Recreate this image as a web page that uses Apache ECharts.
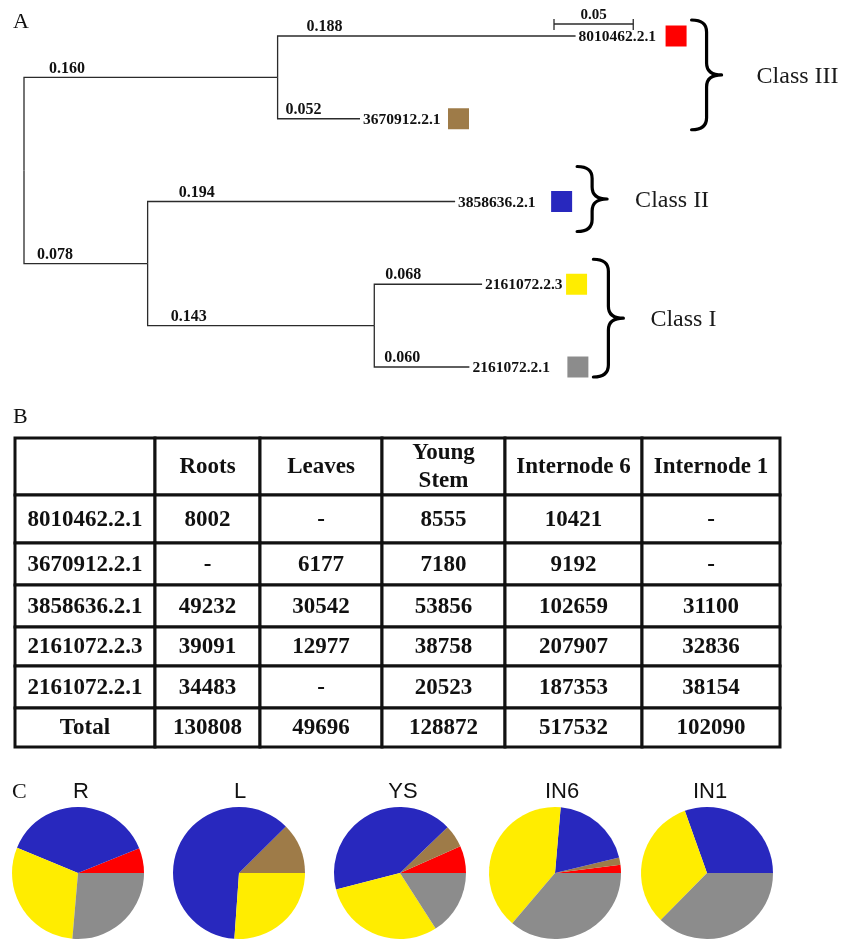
<!DOCTYPE html>
<html>
<head>
<meta charset="utf-8">
<script src="https://cdn.jsdelivr.net/npm/echarts@6/dist/echarts.min.js"></script>
<style>
  html, body { margin: 0; padding: 0; background: #ffffff; }
  #main { width: 851px; height: 941px; }
</style>
</head>
<body>
<div id="main"></div>
<script>
// Genes, listed in tree order (top to bottom), with their class colours
const genes = ['8010462.2.1', '3670912.2.1', '3858636.2.1', '2161072.2.3', '2161072.2.1'];
const geneColors = ['#ff0000', '#9e7b48', '#2828be', '#ffed00', '#8c8c8c'];

// Tree topology: [parent, child, branch length]
const treeEdges = [
  ['root', 'cladeIII', 0.160],
  ['cladeIII', '8010462.2.1', 0.188],
  ['cladeIII', '3670912.2.1', 0.052],
  ['root', 'cladeI_II', 0.078],
  ['cladeI_II', '3858636.2.1', 0.194],
  ['cladeI_II', 'cladeI', 0.143],
  ['cladeI', '2161072.2.3', 0.068],
  ['cladeI', '2161072.2.1', 0.060]
];
const scaleBarLength = 0.05;

const classNames = ['Class III', 'Class II', 'Class I'];
const classMembers = [
  ['8010462.2.1', '3670912.2.1'],
  ['3858636.2.1'],
  ['2161072.2.3', '2161072.2.1']
];

// Expression counts per tissue (null = not detected)
const tissues = ['Roots', 'Leaves', 'Young\nStem', 'Internode 6', 'Internode 1'];
const tissueAbbrev = ['R', 'L', 'YS', 'IN6', 'IN1'];
const roots      = [8002,  null,  49232,  39091,  34483];
const leaves     = [null,  6177,  30542,  12977,  null];
const youngStem  = [8555,  7180,  53856,  38758,  20523];
const internode6 = [10421, 9192,  102659, 207907, 187353];
const internode1 = [null,  null,  31100,  32836,  38154];

const tissueColumns = [roots, leaves, youngStem, internode6, internode1];
const totals = tissueColumns.map(col => col.reduce((s, v) => s + (v || 0), 0));

// ---- layout constants ----
const serif = '"Liberation Serif", "Times New Roman", serif';
const sans = '"Liberation Sans", Arial, sans-serif';
const edgeLabelDx = [25, 29, 8, 13, 31, 23, 11, 10];   // px from branch start to its length label
const squareGap = [90, 88, 96, 84, 98];                // px from leaf tip to its colour square
const squareSize = 21;
const bracePad = [[16, 11], [35, 30], [25, 10]];       // px above / below the member leaves
const classLabelGap = [35, 28, 27];
const scaleBarAnchor = [554, 24];
const colWidths = [140, 105, 122, 123, 137, 138];
const rowHeights = [57, 48, 42, 42, 39, 42, 39];
const pieCenters = [78, 239, 400, 555, 707];
const pieTitleDx = [3, 1, 3, 7, 3];
const pieCenterY = 873;
const pieRadius = 66;

// ---- tree geometry from branch lengths ----
const nodeX = { root: 0 };
const childrenOf = {};
treeEdges.forEach(([p, c, len]) => {
  nodeX[c] = nodeX[p] + len;
  (childrenOf[p] = childrenOf[p] || []).push(c);
});
const nodeY = {};
function placeY(n) {
  if (genes.indexOf(n) >= 0) return (nodeY[n] = genes.indexOf(n));
  const ys = childrenOf[n].map(placeY);
  return (nodeY[n] = ys.reduce((a, b) => a + b, 0) / ys.length);
}
placeY('root');

const treeData = treeEdges.map(([p, c], i) => [nodeX[p], nodeY[p], nodeX[c], nodeY[c], i]);

function textEl(x, y, text, font, align, vAlign, fill) {
  return {
    type: 'text', x: x, y: y,
    style: {
      text: text, font: font, fill: fill || '#111',
      align: align, verticalAlign: vAlign,
      textAlign: align, textVerticalAlign: vAlign
    }
  };
}

function renderBranch(params, api) {
  const i = api.value(4);
  const a = api.coord([api.value(0), api.value(1)]);
  const b = api.coord([api.value(0), api.value(3)]);
  const c = api.coord([api.value(2), api.value(3)]);
  const children = [
    { type: 'polyline', shape: { points: [a, b, c] },
      style: { stroke: '#2b2b2b', lineWidth: 1.3, fill: null } },
    textEl(b[0] + edgeLabelDx[i], b[1] - 1, treeEdges[i][2].toFixed(3),
      'bold 16px ' + serif, 'left', 'bottom')
  ];
  const leaf = genes.indexOf(treeEdges[i][1]);
  if (leaf >= 0) {
    children.push(textEl(c[0] + 3, c[1] + 1, genes[leaf], 'bold 15.5px ' + serif, 'left', 'middle'));
    children.push({
      type: 'rect',
      shape: { x: c[0] + squareGap[leaf], y: c[1] - squareSize / 2, width: squareSize, height: squareSize },
      style: { fill: geneColors[leaf] }
    });
  }
  return { type: 'group', children: children };
}

function renderBrace(params, api) {
  const k = api.value(0);
  const idx = classMembers[k].map(g => genes.indexOf(g));
  let right = 0;
  idx.forEach(li => {
    const p = api.coord([nodeX[genes[li]], li]);
    right = Math.max(right, p[0] + squareGap[li] + squareSize);
  });
  const xl = right + 5;
  const yt = api.coord([0, idx[0]])[1] - bracePad[k][0];
  const yb = api.coord([0, idx[idx.length - 1]])[1] + bracePad[k][1];
  const ym = (yt + yb) / 2;
  const xs = xl + 15, xt = xl + 30, r = 12;
  const d = 'M' + xl + ',' + yt +
    ' Q' + xs + ',' + yt + ' ' + xs + ',' + (yt + r) +
    ' L' + xs + ',' + (ym - r) +
    ' Q' + xs + ',' + ym + ' ' + xt + ',' + ym +
    ' Q' + xs + ',' + ym + ' ' + xs + ',' + (ym + r) +
    ' L' + xs + ',' + (yb - r) +
    ' Q' + xs + ',' + yb + ' ' + xl + ',' + yb;
  return {
    type: 'group',
    children: [
      { type: 'path', shape: { pathData: d },
        style: { stroke: '#000', lineWidth: 3.2, fill: null, lineJoin: 'round', lineCap: 'round' } },
      textEl(xt + classLabelGap[k], ym + 2, classNames[k], '24px ' + serif, 'left', 'middle', '#1a1a1a')
    ]
  };
}

function renderScaleBar(params, api) {
  const len = api.size([scaleBarLength, 0])[0];
  const x0 = scaleBarAnchor[0], y0 = scaleBarAnchor[1];
  const st = { stroke: '#2b2b2b', lineWidth: 1.3 };
  return {
    type: 'group',
    children: [
      { type: 'line', shape: { x1: x0, y1: y0, x2: x0 + len, y2: y0 }, style: st },
      { type: 'line', shape: { x1: x0, y1: y0 - 5, x2: x0, y2: y0 + 6 }, style: st },
      { type: 'line', shape: { x1: x0 + len, y1: y0 - 5, x2: x0 + len, y2: y0 + 6 }, style: st },
      textEl(x0 + len / 2, y0 - 1, scaleBarLength.toFixed(2), 'bold 15px ' + serif, 'center', 'bottom')
    ]
  };
}

// ---- table ----
const colEdges = [0];
colWidths.forEach(w => colEdges.push(colEdges[colEdges.length - 1] + w));
const rowEdges = [0];
rowHeights.forEach(h => rowEdges.push(rowEdges[rowEdges.length - 1] + h));

function cellText(r, c) {
  if (r === 0) return c === 0 ? '' : tissues[c - 1];
  if (r === rowHeights.length - 1) return c === 0 ? 'Total' : String(totals[c - 1]);
  if (c === 0) return genes[r - 1];
  const v = tissueColumns[c - 1][r - 1];
  return v == null ? '-' : String(v);
}

const tableData = [];
for (let r = 0; r < rowHeights.length; r++)
  for (let c = 0; c < colWidths.length; c++) tableData.push([c, r]);

function renderCell(params, api) {
  const c = api.value(0), r = api.value(1);
  const p0 = api.coord([colEdges[c], rowEdges[r]]);
  const p1 = api.coord([colEdges[c + 1], rowEdges[r + 1]]);
  const x = Math.min(p0[0], p1[0]), y = Math.min(p0[1], p1[1]);
  const w = Math.abs(p1[0] - p0[0]), h = Math.abs(p1[1] - p0[1]);
  const t = textEl(x + w / 2, y + h / 2 + 1, cellText(r, c), 'bold 23px ' + serif, 'center', 'middle', '#111');
  t.style.lineHeight = 28;
  return {
    type: 'group',
    children: [
      { type: 'rect', shape: { x: x, y: y, width: w, height: h },
        style: { fill: '#fff', stroke: '#111', lineWidth: 3 } },
      t
    ]
  };
}

// ---- pies ----
const pieSeries = tissueColumns.map((col, t) => ({
  type: 'pie',
  center: [pieCenters[t], pieCenterY],
  radius: pieRadius,
  startAngle: 0,
  clockwise: false,
  silent: true,
  animation: false,
  label: { show: false },
  labelLine: { show: false },
  emphasis: { disabled: true },
  itemStyle: { borderWidth: 0 },
  data: genes.map((g, i) => ({ name: g, value: col[i] || 0, itemStyle: { color: geneColors[i] } }))
}));

const chart = echarts.init(document.getElementById('main'), null, { renderer: 'canvas' });
chart.setOption({
  backgroundColor: '#ffffff',
  animation: false,
  grid: [
    { left: 24, top: 36, width: 792.5, height: 331 },
    { left: 15, top: 438, width: 765, height: 309 }
  ],
  xAxis: [
    { type: 'value', gridIndex: 0, min: 0, max: 0.5, show: false },
    { type: 'value', gridIndex: 1, min: 0, max: colEdges[colEdges.length - 1], show: false }
  ],
  yAxis: [
    { type: 'value', gridIndex: 0, min: 0, max: 4, inverse: true, show: false },
    { type: 'value', gridIndex: 1, min: 0, max: rowEdges[rowEdges.length - 1], inverse: true, show: false }
  ],
  graphic: [
    textEl(13, 22, 'A', '22px ' + serif, 'left', 'middle', '#111'),
    textEl(13, 417, 'B', '22px ' + serif, 'left', 'middle', '#111'),
    textEl(12, 792, 'C', '22px ' + serif, 'left', 'middle', '#111')
  ].concat(tissueAbbrev.map((a, t) =>
    textEl(pieCenters[t] + pieTitleDx[t], 792, a, '22px ' + sans, 'center', 'middle', '#111'))),
  series: [
    { type: 'custom', xAxisIndex: 0, yAxisIndex: 0, renderItem: renderBranch, data: treeData, silent: true, clip: false },
    { type: 'custom', xAxisIndex: 0, yAxisIndex: 0, renderItem: renderBrace,
      data: classNames.map((n, k) => [k]), silent: true, clip: false },
    { type: 'custom', xAxisIndex: 0, yAxisIndex: 0, renderItem: renderScaleBar, data: [[0]], silent: true, clip: false },
    { type: 'custom', xAxisIndex: 1, yAxisIndex: 1, renderItem: renderCell, data: tableData, silent: true, clip: false }
  ].concat(pieSeries)
});
</script>
</body>
</html>
